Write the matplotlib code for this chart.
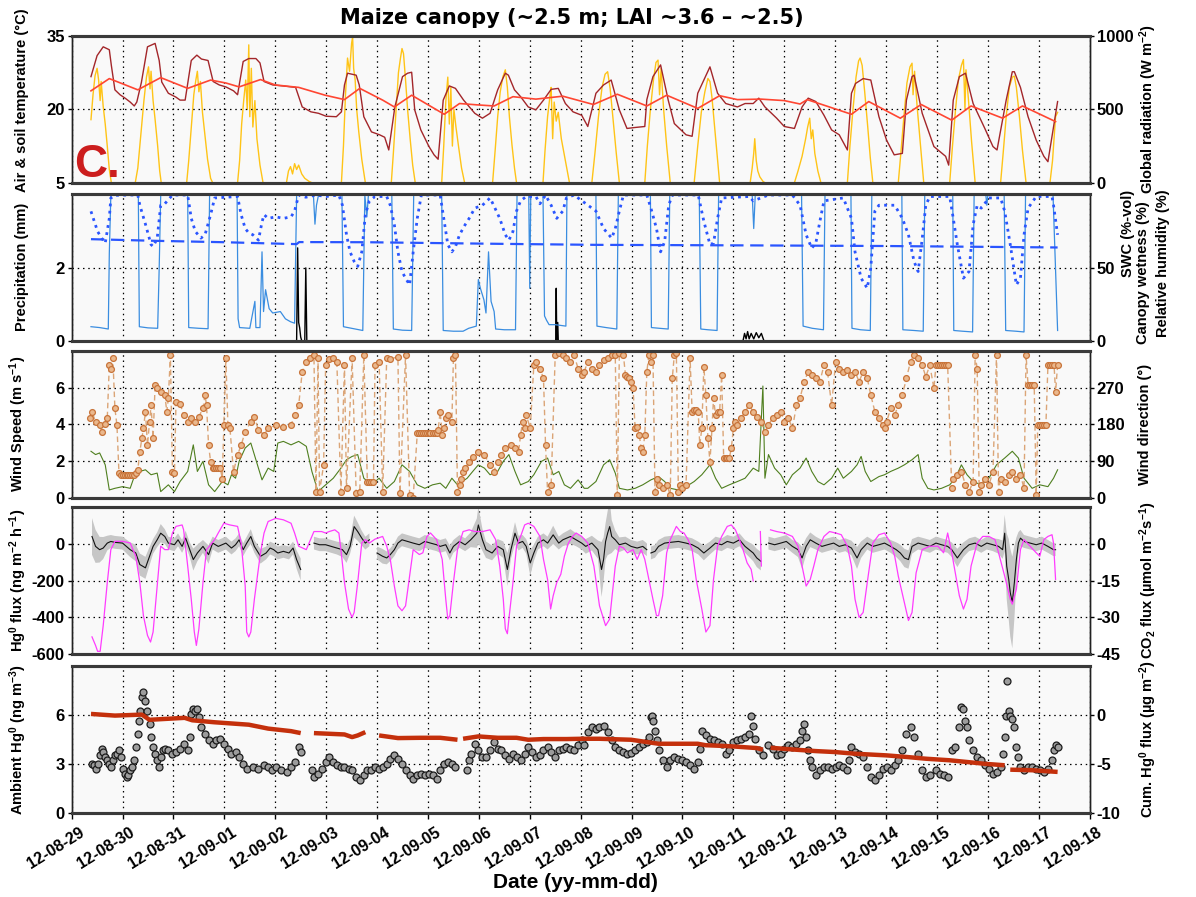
import numpy as np
import matplotlib
matplotlib.use('Agg')
import matplotlib.pyplot as plt
import matplotlib.transforms as mtransforms

plt.rcParams['font.family'] = ['Liberation Sans', 'DejaVu Sans']
plt.rcParams['font.weight'] = 'bold'
plt.rcParams['mathtext.fontset'] = 'custom'
plt.rcParams['mathtext.rm'] = 'Liberation Sans:bold'
plt.rcParams['mathtext.it'] = 'Liberation Sans:bold'
plt.rcParams['mathtext.bf'] = 'Liberation Sans:bold'
plt.rcParams['axes.unicode_minus'] = False

nan = float('nan')

# x values are days since 2012-08-29 00:00
day_labels = ['12-08-29', '12-08-30', '12-08-31', '12-09-01', '12-09-02', '12-09-03',
              '12-09-04', '12-09-05', '12-09-06', '12-09-07', '12-09-08', '12-09-09',
              '12-09-10', '12-09-11', '12-09-12', '12-09-13', '12-09-14', '12-09-15',
              '12-09-16', '12-09-17', '12-09-18']

# --- panel 1: air / soil temperature (degC), global radiation (W m-2)
air_temp = [
    (0.38, 26.7), (0.50, 31.0), (0.62, 32.8), (0.74, 32.2), (0.78, 29.0), (0.85, 24.0), (0.95, 23.0),
    (1.05, 22.3), (1.15, 21.5), (1.23, 20.7), (1.28, 21.5), (1.37, 25.5), (1.49, 32.8), (1.64, 33.5),
    (1.72, 30.0), (1.77, 25.6), (1.90, 23.3), (2.05, 22.5), (2.13, 21.9), (2.23, 21.9), (2.35, 30.0),
    (2.46, 31.1), (2.55, 30.3), (2.68, 30.0), (2.78, 25.7), (2.90, 25.0), (3.03, 24.6), (3.18, 23.8),
    (3.26, 23.0), (3.37, 29.8), (3.48, 30.4), (3.62, 30.4), (3.70, 29.5), (3.78, 25.7), (3.95, 25.0),
    (4.15, 24.8), (4.40, 24.5), (4.53, 20.5), (4.70, 19.5), (4.85, 19.2), (5.00, 18.6), (5.20, 18.5),
    (5.30, 19.5), (5.36, 25.0), (5.42, 27.4), (5.59, 27.0), (5.65, 25.0), (5.74, 18.5), (5.89, 15.4),
    (6.05, 14.8), (6.15, 14.3), (6.23, 11.7), (6.35, 20.5), (6.50, 26.7), (6.60, 27.4), (6.68, 27.6),
    (6.74, 19.9), (6.86, 15.8), (7.02, 12.4), (7.12, 10.7), (7.20, 9.8), (7.30, 21.9), (7.42, 24.8),
    (7.54, 24.3), (7.70, 21.9), (7.92, 19.2), (8.07, 18.2), (8.22, 19.2), (8.37, 24.0), (8.52, 27.4),
    (8.58, 27.0), (8.70, 24.0), (8.82, 22.6), (8.97, 20.5), (9.12, 19.9), (9.27, 21.9), (9.42, 24.1),
    (9.56, 24.3), (9.70, 21.2), (9.85, 19.5), (10.02, 18.8), (10.14, 16.5), (10.30, 23.3), (10.45, 25.0),
    (10.60, 26.0), (10.76, 19.9), (10.91, 16.1), (11.07, 16.3), (11.26, 16.5), (11.30, 22.0), (11.42, 26.7),
    (11.57, 29.1), (11.72, 21.9), (11.84, 17.1), (12.07, 14.8), (12.19, 14.5), (12.30, 23.3), (12.54, 28.7),
    (12.69, 23.3), (12.85, 21.2), (13.08, 20.5), (13.23, 21.2), (13.39, 21.2), (13.50, 22.3), (13.62, 20.5),
    (13.85, 18.2), (14.00, 16.5), (14.20, 16.1), (14.35, 20.5), (14.47, 22.3), (14.62, 21.6), (14.78, 18.8),
    (14.93, 15.8), (15.08, 14.8), (15.24, 11.7), (15.32, 23.3), (15.40, 25.3), (15.55, 26.3), (15.70, 26.0),
    (15.86, 18.5), (16.01, 13.7), (16.16, 10.7), (16.32, 11.0), (16.40, 21.9), (16.51, 26.7), (16.55, 27.0),
    (16.71, 19.2), (16.94, 12.4), (17.17, 10.4), (17.23, 8.6), (17.32, 21.9), (17.44, 26.7), (17.56, 27.4),
    (17.71, 21.2), (17.94, 16.1), (18.10, 12.4), (18.18, 11.7), (18.36, 21.9), (18.48, 27.7), (18.52, 27.7),
    (18.64, 24.5), (18.79, 18.5), (18.95, 13.7), (19.10, 10.4), (19.18, 9.3), (19.30, 17.0), (19.37, 21.6),
]
soil_temp = [
    (0.38, 23.8), (0.74, 26.3), (1.30, 24.0), (1.75, 26.5), (2.28, 24.3), (2.73, 26.0), (3.03, 25.4),
    (3.29, 24.6), (3.71, 26.1), (4.00, 25.0), (4.46, 24.5), (4.98, 22.9), (5.36, 22.0), (5.66, 24.3),
    (6.11, 21.9), (6.34, 20.5), (6.68, 22.9), (7.32, 19.0), (7.62, 21.2), (8.00, 20.9), (8.30, 20.7),
    (8.67, 22.6), (9.12, 22.1), (9.65, 22.7), (10.25, 21.0), (10.72, 23.1), (11.30, 20.7), (11.69, 22.9),
    (12.30, 20.2), (12.73, 22.8), (13.08, 22.0), (13.54, 22.1), (14.00, 21.8), (14.31, 21.1), (14.45, 22.0),
    (15.32, 19.0), (15.66, 21.6), (16.28, 18.2), (16.69, 21.0), (17.29, 17.8), (17.67, 20.7), (18.29, 18.2),
    (18.68, 20.7), (19.33, 17.5),
]
radiation = [
    (0.38, 430), (0.42, 600), (0.46, 730), (0.50, 780), (0.53, 700), (0.56, 560), (0.58, 690), (0.62, 520),
    (0.66, 400), (0.70, 250), (0.74, 90), (0.78, 0), (1.25, 0), (1.30, 100), (1.36, 330), (1.42, 560),
    (1.47, 720), (1.51, 790), (1.54, 640), (1.56, 760), (1.60, 560), (1.64, 430), (1.69, 250), (1.73, 80),
    (1.76, 0), (2.26, 0), (2.30, 150), (2.35, 380), (2.40, 600), (2.44, 700), (2.47, 760), (2.50, 620),
    (2.53, 690), (2.57, 480), (2.62, 320), (2.67, 160), (2.73, 30), (2.77, 0), (3.26, 0), (3.30, 150),
    (3.34, 400), (3.38, 560), (3.42, 700), (3.45, 500), (3.48, 940), (3.50, 450), (3.53, 780), (3.56, 380),
    (3.60, 560), (3.64, 300), (3.70, 120), (3.76, 0), (4.22, 0), (4.26, 80), (4.30, 110), (4.34, 60),
    (4.38, 130), (4.42, 90), (4.46, 120), (4.52, 60), (4.58, 30), (4.66, 10), (4.72, 0), (5.30, 0),
    (5.34, 250), (5.38, 600), (5.42, 850), (5.46, 760), (5.50, 950), (5.52, 995), (5.54, 780), (5.57, 700),
    (5.60, 500), (5.64, 350), (5.70, 160), (5.77, 0), (6.28, 0), (6.32, 200), (6.37, 480), (6.42, 750),
    (6.46, 850), (6.49, 915), (6.52, 880), (6.56, 700), (6.60, 500), (6.65, 300), (6.70, 120), (6.75, 0),
    (7.27, 0), (7.31, 250), (7.35, 550), (7.39, 720), (7.42, 400), (7.45, 650), (7.48, 250), (7.51, 500),
    (7.55, 380), (7.60, 250), (7.66, 100), (7.72, 0), (8.27, 0), (8.32, 220), (8.37, 450), (8.42, 620),
    (8.47, 720), (8.52, 770), (8.56, 650), (8.60, 450), (8.65, 260), (8.70, 100), (8.74, 0), (9.26, 0),
    (9.30, 220), (9.35, 450), (9.40, 600), (9.42, 650), (9.45, 300), (9.48, 550), (9.52, 420), (9.56, 480),
    (9.62, 300), (9.70, 150), (9.78, 0), (10.22, 0), (10.28, 200), (10.35, 450), (10.42, 650), (10.48, 740),
    (10.53, 757), (10.58, 640), (10.64, 420), (10.70, 200), (10.76, 0), (11.26, 0), (11.31, 250), (11.37, 500),
    (11.43, 700), (11.48, 820), (11.52, 836), (11.55, 600), (11.58, 780), (11.63, 500), (11.69, 250),
    (11.76, 0), (12.23, 0), (12.30, 250), (12.37, 480), (12.44, 620), (12.50, 711), (12.54, 690), (12.58, 580),
    (12.64, 350), (12.69, 150), (12.73, 0), (13.33, 0), (13.37, 100), (13.40, 200), (13.42, 300), (13.45, 150),
    (13.48, 80), (13.52, 40), (13.58, 10), (13.62, 0), (14.20, 0), (14.27, 80), (14.35, 180), (14.42, 300),
    (14.46, 380), (14.50, 440), (14.53, 300), (14.56, 360), (14.60, 200), (14.66, 80), (14.72, 0), (15.24, 0),
    (15.29, 250), (15.35, 500), (15.41, 720), (15.46, 830), (15.49, 850), (15.53, 800), (15.58, 620),
    (15.64, 380), (15.69, 170), (15.74, 0), (16.24, 0), (16.29, 200), (16.35, 450), (16.41, 680), (16.47, 790),
    (16.51, 815), (16.53, 600), (16.56, 760), (16.61, 520), (16.67, 280), (16.74, 0), (17.25, 0), (17.30, 230),
    (17.36, 480), (17.42, 700), (17.48, 800), (17.52, 840), (17.55, 500), (17.57, 770), (17.62, 560),
    (17.68, 280), (17.75, 0), (18.25, 0), (18.30, 200), (18.36, 450), (18.42, 650), (18.48, 720), (18.52, 727),
    (18.56, 650), (18.62, 450), (18.68, 220), (18.75, 0), (19.22, 0), (19.27, 150), (19.33, 450), (19.37, 480),
]

# --- panel 2: precipitation (mm), canopy wetness / RH / SWC (%)
precip = [
    (4.42, 0), (4.44, 2.55), (4.46, 0.5), (4.48, 0.35), (4.50, 0.1), (4.52, 0), (4.58, 0), (4.60, 2.0),
    (4.62, 0), (9.51, 0), (9.52, 1.44), (9.53, 0), (9.55, 0.5), (9.56, 0), (13.19, 0), (13.22, 0.2),
    (13.25, 0.05), (13.28, 0.25), (13.31, 0.05), (13.35, 0.2), (13.40, 0.05), (13.45, 0.22), (13.50, 0.08),
    (13.55, 0.2), (13.60, 0),
]
canopy_wet = [
    (0.38, 9.6), (0.55, 9.0), (0.72, 8.0), (0.74, 60), (0.77, 100), (1.31, 100), (1.33, 9.6), (1.50, 8.8),
    (1.69, 8.5), (1.72, 50), (1.75, 100), (2.28, 100), (2.30, 9.0), (2.50, 8.5), (2.68, 8.2), (2.71, 100),
    (3.25, 100), (3.27, 15), (3.30, 9.0), (3.50, 8.5), (3.60, 27), (3.62, 9.0), (3.70, 9.0), (3.74, 61),
    (3.77, 20), (3.81, 35), (3.88, 22), (3.95, 19), (4.10, 20), (4.20, 15), (4.30, 13), (4.38, 12),
    (4.42, 100), (4.75, 100), (4.78, 80), (4.81, 93), (4.85, 100), (5.31, 100), (5.34, 9.6), (5.50, 8.5),
    (5.72, 7.0), (5.76, 100), (5.80, 85), (5.83, 100), (6.29, 100), (6.32, 8.0), (6.50, 7.2), (6.68, 7.0),
    (6.72, 100), (7.27, 100), (7.30, 7.0), (7.50, 6.5), (7.69, 6.5), (7.80, 8.5), (7.95, 10), (7.99, 42),
    (8.03, 36), (8.10, 28), (8.14, 19), (8.19, 61), (8.24, 27), (8.30, 20), (8.33, 8.0), (8.50, 7.5),
    (8.72, 7.5), (8.75, 100), (8.98, 100), (9.00, 36), (9.02, 100), (9.26, 100), (9.29, 17), (9.33, 14),
    (9.38, 11), (9.50, 11), (9.71, 10), (9.73, 100), (10.30, 100), (10.32, 10), (10.50, 9), (10.71, 8),
    (10.74, 100), (11.37, 100), (11.39, 9), (11.55, 8.5), (11.72, 8), (11.75, 100), (12.33, 100), (12.36, 8),
    (12.50, 7.5), (12.68, 7), (12.71, 100), (13.37, 100), (13.40, 77), (13.43, 100), (14.34, 100),
    (14.37, 10), (14.55, 8.5), (14.77, 7.5), (14.80, 100), (15.31, 100), (15.33, 8.5), (15.50, 7.5),
    (15.69, 7), (15.72, 100), (16.31, 100), (16.33, 7.5), (16.55, 7), (16.73, 6.5), (16.76, 100),
    (17.31, 100), (17.33, 7), (17.50, 6.5), (17.70, 6), (17.73, 100), (17.96, 100), (17.98, 93),
    (18.00, 100), (18.32, 100), (18.35, 7), (18.55, 6.5), (18.71, 6), (18.74, 100), (19.28, 100), (19.37, 7),
]
rel_hum = [
    (0.38, 88.8), (0.51, 75), (0.59, 70.4), (0.66, 67), (0.74, 84), (0.77, 98), (0.85, 99.8), (1.15, 100),
    (1.30, 100), (1.34, 93), (1.45, 80), (1.56, 66), (1.60, 64.7), (1.68, 70), (1.75, 93), (1.83, 94),
    (1.98, 100), (2.28, 100), (2.35, 84), (2.43, 75), (2.54, 70.4), (2.62, 72.7), (2.73, 86.5), (2.81, 98),
    (3.26, 99), (3.33, 86.5), (3.41, 77), (3.48, 74), (3.56, 72.7), (3.67, 69), (3.74, 81.5), (3.78, 86.5),
    (3.86, 84), (4.01, 85), (4.16, 84), (4.31, 85), (4.38, 89), (4.46, 100), (4.60, 98.5), (4.80, 100),
    (5.00, 99), (5.25, 100), (5.32, 93), (5.40, 72.7), (5.47, 61), (5.55, 54.4), (5.62, 51), (5.70, 61),
    (5.77, 86.5), (5.85, 96), (5.96, 99), (6.19, 99), (6.26, 93), (6.34, 79.6), (6.41, 61), (6.49, 47.5),
    (6.56, 42.9), (6.64, 38.3), (6.71, 61), (6.79, 84), (6.87, 100), (7.24, 100), (7.32, 82), (7.39, 66),
    (7.47, 61), (7.54, 64.5), (7.62, 72.7), (7.73, 79.6), (7.81, 84), (7.92, 91), (8.07, 93), (8.22, 98),
    (8.29, 93), (8.41, 84), (8.52, 72.7), (8.59, 69), (8.67, 75), (8.74, 89), (8.82, 96), (8.93, 99),
    (9.12, 99), (9.20, 94), (9.31, 100), (9.42, 93), (9.53, 84), (9.65, 89), (9.72, 98), (9.87, 100),
    (10.30, 89), (10.45, 77), (10.61, 70.4), (10.68, 77), (10.76, 89), (10.84, 100), (11.30, 100),
    (11.38, 91), (11.49, 77), (11.57, 61), (11.65, 68), (11.73, 93), (11.80, 100), (12.31, 100), (12.42, 82),
    (12.54, 66), (12.61, 67), (12.69, 84), (12.77, 98), (13.31, 99), (13.39, 96), (13.54, 98), (13.69, 100),
    (14.16, 100), (14.31, 93), (14.43, 72.7), (14.54, 63.5), (14.62, 67), (14.70, 82), (14.78, 96),
    (15.16, 98), (15.32, 84), (15.39, 61), (15.51, 42.9), (15.63, 36), (15.70, 50), (15.78, 89), (15.86, 93),
    (16.17, 93), (16.32, 84), (16.44, 72.7), (16.55, 54.4), (16.63, 47.5), (16.71, 70), (16.78, 93),
    (16.86, 99), (17.25, 99), (17.32, 84), (17.40, 66), (17.52, 42.9), (17.63, 47.5), (17.71, 79.6),
    (17.79, 93), (17.87, 91), (18.02, 98), (18.25, 98), (18.33, 89), (18.44, 66), (18.56, 38.3), (18.64, 42.9),
    (18.71, 72.7), (18.79, 91), (18.95, 99), (19.26, 99), (19.29, 93), (19.37, 72.7),
]
swc = [
    (0.38, 69.7), (1.60, 68.6), (3.00, 67.6), (4.42, 66.3), (4.47, 67.7), (5.80, 67.6), (8.40, 66.5),
    (10.30, 65.8), (13.50, 65.4), (16.00, 65.0), (19.37, 64.0),
]

# --- panel 3: wind speed (m s-1), wind direction (deg)
wind_speed = [
    (0.38, 2.53), (0.47, 2.35), (0.55, 2.44), (0.66, 1.79), (0.74, 0.42), (0.85, 0.51), (1.00, 0.60),
    (1.15, 0.51), (1.23, 1.15), (1.34, 1.43), (1.45, 1.52), (1.56, 1.25), (1.68, 1.34), (1.75, 0.33),
    (1.90, 0.70), (2.02, 0.33), (2.13, 0.88), (2.28, 1.43), (2.39, 2.88), (2.47, 1.43), (2.58, 1.98),
    (2.69, 0.70), (2.81, 0.33), (2.96, 0.88), (3.07, 0.70), (3.14, 1.25), (3.22, 1.06), (3.29, 1.98),
    (3.41, 2.71), (3.52, 2.98), (3.63, 1.98), (3.74, 0.97), (3.86, 1.61), (3.97, 1.43), (4.05, 2.98),
    (4.16, 3.07), (4.31, 2.88), (4.46, 3.07), (4.61, 2.80), (4.72, 1.43), (4.84, 0.33), (4.99, 0.70),
    (5.14, 1.06), (5.29, 1.61), (5.40, 2.07), (5.51, 2.25), (5.62, 2.35), (5.74, 1.06), (5.89, 0.70),
    (6.04, 1.06), (6.19, 0.51), (6.34, 0.88), (6.49, 1.79), (6.64, 1.43), (6.79, 0.70), (6.94, 0.51),
    (7.09, 0.70), (7.24, 0.79), (7.35, 0.51), (7.47, 1.06), (7.58, 0.70), (7.77, 1.06), (7.88, 1.43),
    (7.99, 1.79), (8.11, 1.61), (8.22, 1.25), (8.37, 1.43), (8.48, 1.98), (8.59, 2.35), (8.71, 1.43),
    (8.82, 0.70), (8.97, 0.88), (9.08, 1.25), (9.23, 1.98), (9.35, 2.16), (9.46, 1.25), (9.57, 1.43),
    (9.68, 0.70), (9.80, 0.51), (9.95, 0.97), (10.07, 0.51), (10.14, 0.51), (10.30, 0.88), (10.45, 1.79),
    (10.57, 2.07), (10.68, 1.34), (10.76, 0.51), (10.92, 0.42), (11.07, 0.51), (11.22, 0.70), (11.38, 0.97),
    (11.53, 1.15), (11.65, 0.88), (11.76, 0.51), (11.92, 0.42), (12.07, 0.60), (12.23, 0.88), (12.38, 1.25),
    (12.54, 1.79), (12.65, 1.06), (12.77, 0.51), (12.92, 0.70), (13.08, 0.88), (13.23, 1.06), (13.39, 1.61),
    (13.50, 1.43), (13.58, 6.09), (13.62, 1.06), (13.69, 2.35), (13.81, 1.61), (13.93, 1.25), (14.04, 0.70),
    (14.16, 1.25), (14.31, 1.61), (14.43, 2.16), (14.54, 1.43), (14.66, 0.88), (14.78, 0.70), (14.93, 1.06),
    (15.05, 1.61), (15.16, 1.06), (15.32, 1.43), (15.43, 1.79), (15.51, 2.25), (15.59, 1.43), (15.70, 0.88),
    (15.86, 1.15), (15.97, 1.25), (16.09, 1.43), (16.24, 1.61), (16.36, 1.79), (16.51, 2.07), (16.63, 2.35),
    (16.71, 1.06), (16.82, 0.51), (16.94, 0.42), (17.09, 0.51), (17.25, 0.70), (17.36, 1.06), (17.48, 1.79),
    (17.59, 1.25), (17.71, 0.88), (17.87, 0.70), (18.02, 1.06), (18.17, 1.79), (18.33, 2.16), (18.48, 2.53),
    (18.60, 2.16), (18.71, 1.06), (18.87, 0.51), (19.02, 0.70), (19.18, 0.60), (19.29, 1.06), (19.37, 1.52),
]
wind_dir = [
    (0.36, 195), (0.40, 211), (0.47, 186), (0.55, 178), (0.59, 162), (0.66, 182), (0.70, 195), (0.74, 325),
    (0.77, 317), (0.81, 342), (0.85, 219), (0.89, 178), (0.93, 60), (0.96, 56), (1.00, 56), (1.04, 56),
    (1.08, 56), (1.11, 56), (1.15, 56), (1.19, 56), (1.23, 56), (1.26, 60), (1.30, 68), (1.34, 113),
    (1.38, 146), (1.41, 170), (1.45, 211), (1.49, 129), (1.53, 186), (1.56, 227), (1.60, 146), (1.64, 276),
    (1.68, 268), (1.75, 260), (1.83, 252), (1.87, 211), (1.90, 244), (1.94, 350), (1.98, 64), (2.02, 60),
    (2.05, 235), (2.13, 231), (2.20, 203), (2.28, 186), (2.35, 195), (2.43, 186), (2.50, 199), (2.58, 219),
    (2.62, 252), (2.65, 227), (2.69, 129), (2.73, 88), (2.77, 72), (2.80, 72), (2.84, 72), (2.88, 72),
    (2.92, 72), (2.96, 47), (2.99, 178), (3.03, 342), (3.07, 178), (3.11, 170), (3.18, 64), (3.26, 105),
    (3.33, 129), (3.41, 162), (3.52, 186), (3.59, 199), (3.67, 166), (3.78, 154), (3.86, 170), (4.01, 178),
    (4.16, 174), (4.31, 178), (4.38, 203), (4.46, 227), (4.53, 309), (4.61, 334), (4.68, 342), (4.76, 350),
    (4.80, 15), (4.84, 342), (4.87, 15), (4.95, 80), (4.99, 325), (5.06, 340), (5.14, 342), (5.21, 334),
    (5.29, 15), (5.36, 325), (5.40, 23), (5.51, 342), (5.59, 11), (5.66, 15), (5.74, 350), (5.81, 39),
    (5.85, 39), (5.89, 39), (5.93, 39), (5.96, 325), (6.04, 334), (6.11, 15), (6.19, 342), (6.26, 340),
    (6.41, 346), (6.45, 11), (6.56, 350), (6.64, 7), (6.71, 0), (6.79, 158), (6.83, 158), (6.87, 158),
    (6.90, 158), (6.94, 158), (6.98, 158), (7.02, 158), (7.05, 158), (7.09, 158), (7.13, 158), (7.17, 158),
    (7.20, 166), (7.24, 211), (7.28, 154), (7.32, 170), (7.35, 195), (7.39, 203), (7.47, 186), (7.50, 342),
    (7.54, 350), (7.58, 15), (7.62, 31), (7.65, 47), (7.69, 64), (7.73, 72), (7.81, 88), (7.88, 101),
    (7.99, 113), (8.11, 105), (8.22, 80), (8.29, 64), (8.37, 88), (8.44, 105), (8.52, 121), (8.63, 129),
    (8.71, 121), (8.78, 113), (8.82, 154), (8.86, 186), (8.90, 170), (8.93, 203), (9.01, 170), (9.08, 325),
    (9.12, 334), (9.20, 317), (9.27, 293), (9.31, 129), (9.35, 15), (9.42, 31), (9.50, 350), (9.57, 354),
    (9.65, 350), (9.72, 342), (9.80, 334), (9.87, 350), (9.95, 317), (10.02, 301), (10.07, 309), (10.14, 334),
    (10.22, 317), (10.30, 309), (10.37, 325), (10.45, 338), (10.53, 342), (10.61, 350), (10.68, 350),
    (10.72, 7), (10.76, 354), (10.84, 350), (10.88, 301), (10.92, 297), (10.95, 293), (10.99, 285),
    (11.03, 268), (11.07, 170), (11.11, 174), (11.15, 154), (11.19, 121), (11.22, 113), (11.26, 154),
    (11.30, 309), (11.34, 350), (11.38, 334), (11.42, 350), (11.46, 15), (11.49, 47), (11.53, 31),
    (11.61, 23), (11.69, 31), (11.76, 7), (11.80, 293), (11.84, 350), (11.88, 354), (11.92, 15), (11.96, 31),
    (12.00, 23), (12.07, 31), (12.15, 342), (12.19, 211), (12.23, 215), (12.27, 215), (12.31, 211),
    (12.34, 129), (12.38, 170), (12.42, 321), (12.46, 252), (12.50, 146), (12.54, 88), (12.58, 170),
    (12.61, 244), (12.65, 203), (12.69, 211), (12.73, 211), (12.77, 301), (12.81, 97), (12.85, 97),
    (12.88, 97), (12.92, 97), (12.96, 121), (13.00, 170), (13.04, 186), (13.08, 178), (13.15, 195),
    (13.23, 211), (13.31, 227), (13.39, 211), (13.46, 199), (13.54, 186), (13.62, 162), (13.69, 178),
    (13.77, 195), (13.85, 203), (13.93, 211), (14.00, 186), (14.08, 195), (14.16, 170), (14.24, 227),
    (14.31, 244), (14.39, 285), (14.47, 309), (14.54, 301), (14.62, 293), (14.70, 285), (14.78, 325),
    (14.85, 309), (14.93, 227), (15.01, 334), (15.08, 317), (15.16, 309), (15.24, 313), (15.32, 301),
    (15.39, 309), (15.47, 285), (15.55, 309), (15.63, 293), (15.70, 252), (15.78, 211), (15.86, 195),
    (15.93, 178), (15.97, 170), (16.01, 186), (16.09, 219), (16.17, 203), (16.24, 227), (16.32, 252),
    (16.40, 293), (16.48, 334), (16.55, 350), (16.63, 342), (16.71, 325), (16.78, 297), (16.86, 325),
    (16.94, 268), (16.98, 325), (17.02, 325), (17.05, 325), (17.09, 325), (17.13, 325), (17.17, 325),
    (17.21, 325), (17.29, 23), (17.32, 47), (17.40, 56), (17.48, 64), (17.56, 31), (17.63, 15), (17.71, 39),
    (17.75, 350), (17.79, 317), (17.83, 15), (17.87, 31), (17.94, 47), (18.02, 31), (18.10, 64), (18.17, 350),
    (18.21, 15), (18.25, 47), (18.33, 39), (18.41, 56), (18.48, 64), (18.56, 47), (18.64, 56), (18.71, 23),
    (18.75, 350), (18.79, 276), (18.83, 276), (18.87, 276), (18.91, 276), (18.95, 7), (18.98, 178),
    (19.02, 178), (19.06, 178), (19.10, 178), (19.14, 178), (19.18, 325), (19.22, 325), (19.26, 325),
    (19.30, 325), (19.33, 260), (19.37, 325),
]

# --- panel 4: Hg0 flux (ng m-2 h-1) with uncertainty half-width, CO2 flux (umol m-2 s-1)
hg_flux = [
    (0.40, 41, 100), (0.47, -13, 90), (0.55, -31, 70), (0.62, -22, 60), (0.70, 5, 40), (0.77, 14, 35),
    (0.85, 9, 35), (1.00, 5, 35), (1.15, -31, 40), (1.26, -49, 45), (1.34, -112, 60), (1.45, -130, 60),
    (1.53, -67, 50), (1.60, -13, 40), (1.68, 23, 40), (1.75, 59, 50), (1.83, 41, 40), (1.90, 5, 35),
    (2.02, -4, 35), (2.09, 23, 35), (2.17, -13, 35), (2.24, 32, 40), (2.32, -31, 40), (2.39, -85, 60),
    (2.47, -49, 45), (2.58, -13, 35), (2.69, -58, 50), (2.77, 5, 35), (2.88, -13, 35), (3.03, 5, 35),
    (3.14, -22, 35), (3.22, -4, 35), (3.29, 23, 35), (3.37, -31, 35), (3.44, 5, 35), (3.52, 41, 40),
    (3.59, -13, 35), (3.71, -67, 40), (3.82, -49, 35), (3.90, -22, 35), (3.97, -31, 35), (4.05, -49, 35),
    (4.16, -40, 35), (4.27, -49, 35), (4.35, -22, 35), (4.42, -85, 50), (4.50, -139, 60), (4.62, nan, nan),
    (4.76, 5, 35), (4.87, -4, 35), (4.99, -4, 35), (5.10, -13, 35), (5.21, -22, 35), (5.32, -31, 40),
    (5.40, -58, 45), (5.47, -13, 40), (5.55, 95, 60), (5.62, 68, 50), (5.70, 32, 40), (5.77, 5, 35),
    (5.85, 23, 35), (5.92, nan, nan), (6.00, -49, 35), (6.11, -67, 40), (6.19, -76, 35), (6.26, -58, 35),
    (6.34, -31, 35), (6.41, 5, 35), (6.49, 23, 35), (6.60, 14, 35), (6.71, 5, 35), (6.83, -4, 35),
    (6.94, 14, 35), (7.05, 5, 35), (7.17, -4, 35), (7.24, -13, 35), (7.35, -4, 35), (7.43, -49, 40),
    (7.50, -13, 35), (7.62, 14, 35), (7.73, -4, 35), (7.84, 23, 40), (7.96, 59, 80), (7.99, 104, 100),
    (8.07, 23, 60), (8.14, -31, 45), (8.26, -49, 40), (8.37, -13, 40), (8.48, -31, 45), (8.56, -139, 90),
    (8.63, -31, 50), (8.71, 59, 60), (8.78, 5, 40), (8.86, 14, 35), (8.93, -13, 40), (9.01, -103, 70),
    (9.08, -49, 45), (9.16, 5, 35), (9.27, 23, 35), (9.35, 5, 35), (9.46, 50, 50), (9.57, 5, 35),
    (9.65, 23, 35), (9.80, 41, 40), (9.91, 23, 35), (10.02, 5, 35), (10.10, -13, 40), (10.22, 5, 40),
    (10.34, -31, 50), (10.41, -139, 150), (10.45, -85, 120), (10.49, 14, 100), (10.53, 59, 120),
    (10.57, 95, 150), (10.61, 41, 90), (10.68, 23, 50), (10.76, -4, 40), (10.88, 5, 35), (10.99, -13, 35),
    (11.11, -22, 35), (11.22, -13, 35), (11.30, -31, 35), (11.34, nan, nan), (11.38, -49, 35), (11.46, -40, 35),
    (11.53, -13, 35), (11.65, 5, 35), (11.76, 9, 35), (11.92, 14, 35), (12.07, 5, 35), (12.19, -4, 35),
    (12.31, -22, 35), (12.42, -49, 40), (12.54, -22, 35), (12.65, 5, 35), (12.77, -4, 35), (12.88, 14, 35),
    (13.00, 5, 35), (13.12, 23, 35), (13.23, -13, 35), (13.31, -31, 40), (13.39, -49, 45), (13.46, -76, 50),
    (13.54, -94, 50), (13.62, nan, nan), (13.69, 5, 35), (13.81, -4, 35), (13.93, 5, 35), (14.04, 14, 35),
    (14.16, -13, 35), (14.27, -31, 40), (14.35, -76, 60), (14.43, -13, 45), (14.51, 23, 40), (14.62, 5, 35),
    (14.74, -13, 35), (14.85, -4, 35), (14.97, 5, 35), (15.08, -13, 35), (15.20, -4, 35), (15.32, -22, 40),
    (15.43, -76, 60), (15.51, -31, 45), (15.63, 5, 35), (15.74, -13, 35), (15.86, -4, 35), (15.97, 5, 35),
    (16.09, -13, 35), (16.20, -31, 40), (16.28, -49, 45), (16.36, -76, 50), (16.44, -85, 50), (16.51, -13, 40),
    (16.63, 5, 35), (16.75, -4, 35), (16.86, -13, 35), (16.98, 5, 35), (17.09, -4, 35), (17.21, -13, 35),
    (17.29, -31, 40), (17.40, -76, 50), (17.52, -31, 40), (17.63, -4, 35), (17.75, 5, 35), (17.87, -13, 35),
    (17.98, 5, 35), (18.10, -4, 35), (18.21, -13, 40), (18.29, -31, 50), (18.33, 59, 100), (18.37, -121, 180),
    (18.41, -193, 220), (18.44, -265, 240), (18.48, -319, 250), (18.52, -211, 200), (18.56, -85, 120),
    (18.60, 5, 60), (18.64, 32, 45), (18.71, 14, 35), (18.83, 5, 35), (18.95, -4, 35), (19.06, 5, 35),
    (19.18, -13, 35), (19.29, -31, 35), (19.33, -31, 35),
]
co2_flux = [
    (0.40, -38.0), (0.47, -41.5), (0.51, -43.9), (0.56, -43.9), (0.62, -33.4), (0.70, -15.8), (0.77, -2.3),
    (0.85, 1.1), (1.00, 1.1), (1.15, 0.4), (1.26, -5.0), (1.34, -15.8), (1.41, -29.3), (1.49, -37.4),
    (1.55, -40.1), (1.60, -36.0), (1.68, -17.2), (1.75, -0.9), (1.83, -2.3), (1.90, -2.3), (1.98, 4.5),
    (2.05, 7.2), (2.17, 7.8), (2.20, 5.8), (2.28, -9.0), (2.35, -22.6), (2.41, -36.0), (2.45, -41.5),
    (2.50, -34.7), (2.58, -15.8), (2.65, -2.3), (2.73, -0.3), (2.81, 1.8), (2.88, 4.5), (2.99, 8.5),
    (3.11, 7.8), (3.26, 7.2), (3.33, 0.4), (3.41, -17.2), (3.44, -36.0), (3.48, -38.0), (3.52, -36.0),
    (3.59, -22.6), (3.71, -3.6), (3.78, 4.5), (3.86, 9.2), (4.01, 10.5), (4.16, 9.9), (4.31, 8.5),
    (4.38, 4.5), (4.46, -0.9), (4.61, -2.3), (4.76, 5.1), (4.91, 5.1), (4.99, 4.5), (5.06, 5.1), (5.17, 5.8),
    (5.25, 4.5), (5.29, -2.3), (5.36, -15.8), (5.44, -26.6), (5.51, -30.0), (5.55, -28.0), (5.62, -15.8),
    (5.70, 0.4), (5.77, 1.8), (5.85, 0.4), (5.96, 2.0), (6.11, 3.1), (6.19, -0.9), (6.26, -6.3),
    (6.34, -17.2), (6.41, -25.3), (6.49, -27.3), (6.56, -25.3), (6.64, -13.1), (6.71, -2.3), (6.83, -4.3),
    (6.90, -3.6), (6.98, 3.1), (7.05, 4.5), (7.17, 1.8), (7.28, -6.3), (7.35, -22.6), (7.39, -30.7),
    (7.43, -29.3), (7.50, -15.8), (7.58, -2.3), (7.69, 5.1), (7.81, 5.8), (7.92, 5.1), (8.07, 5.1),
    (8.22, 5.8), (8.33, 1.8), (8.41, -9.0), (8.48, -22.6), (8.52, -34.7), (8.56, -36.7), (8.59, -30.7),
    (8.67, -15.8), (8.74, -0.9), (8.82, 3.1), (8.90, 7.8), (8.97, 8.5), (9.08, 7.2), (9.20, 3.1),
    (9.27, -6.3), (9.35, -14.5), (9.41, -26.6), (9.46, -21.2), (9.53, -15.8), (9.61, -12.4), (9.68, -5.0),
    (9.76, 0.4), (9.84, 3.1), (9.91, 4.5), (10.02, 3.1), (10.14, 0.4), (10.26, -9.0), (10.37, -25.3),
    (10.49, -33.4), (10.57, -30.7), (10.68, -9.0), (10.76, -0.9), (10.84, -1.6), (10.92, -3.6), (11.03, -2.3),
    (11.11, -6.3), (11.19, -2.3), (11.26, -6.3), (11.34, -14.5), (11.42, -22.6), (11.49, -29.3),
    (11.53, -29.3), (11.61, -21.2), (11.69, -3.6), (11.76, 1.8), (11.88, 7.2), (11.96, 5.1), (12.03, 4.5),
    (12.11, 1.8), (12.19, -2.3), (12.27, -14.5), (12.38, -26.6), (12.46, -36.0), (12.54, -33.4),
    (12.61, -14.5), (12.69, -0.9), (12.77, 3.1), (12.88, 7.2), (12.96, 7.8), (13.04, 5.8), (13.12, 1.8),
    (13.19, -2.3), (13.27, -7.7), (13.35, -10.4), (13.39, -15.1), (13.45, nan), (13.53, 5.1), (13.55, -9.0),
    (13.60, nan), (13.73, 5.8), (13.85, 5.1), (14.00, 4.5), (14.16, 3.1), (14.27, -0.9), (14.35, -9.0),
    (14.43, -17.2), (14.51, -14.5), (14.58, -9.0), (14.66, -2.3), (14.78, 3.1), (14.89, 5.1), (15.01, 4.5),
    (15.12, 3.8), (15.24, -0.9), (15.32, -9.0), (15.39, -22.6), (15.47, -30.0), (15.55, -28.0), (15.63, -15.8),
    (15.74, 0.4), (15.86, 3.8), (15.97, 4.5), (16.09, 0.4), (16.17, -5.0), (16.24, -13.1), (16.36, -23.9),
    (16.44, -31.3), (16.51, -28.0), (16.59, -11.8), (16.71, -2.3), (16.86, -0.9), (17.02, -0.9),
    (17.13, -3.6), (17.21, 4.5), (17.29, -3.6), (17.36, -11.8), (17.44, -21.2), (17.52, -26.6),
    (17.59, -22.6), (17.67, -9.0), (17.79, 0.4), (17.90, 3.1), (18.02, 3.1), (18.14, 1.8), (18.21, -3.6),
    (18.33, -13.1), (18.44, -22.6), (18.48, -24.6), (18.56, -18.5), (18.64, -2.3), (18.71, 1.8),
    (18.83, -0.9), (18.95, -3.6), (19.02, -5.0), (19.10, 1.8), (19.18, 3.1), (19.26, 3.8), (19.29, 0.4),
    (19.33, -14.5),
]

# --- panel 5: ambient Hg0 (ng m-3), cumulative Hg0 flux (ug m-2)
hg_ambient = [
    (0.40, 3.01), (0.44, 2.91), (0.47, 2.70), (0.51, 3.01), (0.55, 3.52), (0.59, 3.93), (0.62, 3.72),
    (0.66, 3.42), (0.70, 3.21), (0.74, 3.01), (0.77, 2.81), (0.81, 3.21), (0.85, 3.52), (0.89, 3.62),
    (0.93, 3.82), (0.96, 3.42), (1.00, 2.70), (1.04, 2.40), (1.08, 2.20), (1.11, 2.30), (1.15, 2.60),
    (1.19, 2.81), (1.23, 3.21), (1.26, 4.03), (1.30, 4.84), (1.32, 5.65), (1.34, 6.26), (1.38, 7.08),
    (1.41, 7.38), (1.45, 6.87), (1.49, 6.26), (1.53, 5.45), (1.56, 4.64), (1.60, 4.03), (1.64, 3.62),
    (1.68, 3.21), (1.71, 2.81), (1.75, 3.42), (1.79, 3.82), (1.83, 3.93), (1.90, 3.82), (1.98, 3.62),
    (2.05, 3.72), (2.13, 3.93), (2.20, 4.23), (2.28, 3.82), (2.32, 4.64), (2.35, 6.06), (2.39, 6.37),
    (2.43, 6.26), (2.47, 6.37), (2.50, 5.86), (2.54, 5.25), (2.62, 4.84), (2.69, 4.43), (2.77, 4.23),
    (2.84, 4.43), (2.92, 4.54), (2.99, 4.23), (3.07, 3.93), (3.14, 3.62), (3.22, 3.72), (3.29, 3.42),
    (3.37, 3.01), (3.44, 2.70), (3.56, 2.81), (3.67, 2.70), (3.78, 2.91), (3.86, 2.81), (3.93, 2.60),
    (4.01, 2.81), (4.12, 2.60), (4.23, 2.50), (4.31, 2.81), (4.38, 3.11), (4.46, 4.03), (4.50, 3.72),
    (4.72, 2.60), (4.76, 2.20), (4.84, 2.40), (4.91, 2.70), (4.99, 3.11), (5.06, 3.42), (5.14, 3.11),
    (5.21, 2.91), (5.29, 2.81), (5.36, 2.81), (5.44, 2.70), (5.51, 2.60), (5.59, 2.20), (5.66, 1.99),
    (5.74, 2.30), (5.81, 2.60), (5.89, 2.60), (5.96, 2.81), (6.04, 2.70), (6.11, 2.81), (6.19, 3.01),
    (6.26, 3.32), (6.34, 3.52), (6.41, 3.32), (6.49, 3.01), (6.56, 2.60), (6.64, 2.30), (6.71, 2.09),
    (6.79, 2.30), (6.87, 2.40), (6.94, 2.30), (7.02, 2.40), (7.09, 2.30), (7.17, 2.09), (7.24, 2.60),
    (7.32, 3.01), (7.39, 3.11), (7.47, 3.01), (7.54, 2.81), (7.77, 2.60), (7.81, 3.21), (7.84, 3.62),
    (7.92, 4.23), (7.99, 3.82), (8.07, 3.42), (8.14, 3.42), (8.22, 3.82), (8.29, 4.33), (8.37, 3.93),
    (8.44, 3.82), (8.52, 3.52), (8.59, 3.32), (8.67, 3.62), (8.74, 3.42), (8.82, 3.21), (8.90, 3.62),
    (8.97, 4.03), (9.05, 3.72), (9.12, 3.42), (9.20, 3.52), (9.27, 3.82), (9.35, 4.03), (9.42, 3.72),
    (9.50, 3.42), (9.57, 3.82), (9.65, 3.93), (9.72, 4.03), (9.80, 3.93), (9.87, 3.82), (9.95, 4.13),
    (10.02, 4.43), (10.07, 4.13), (10.14, 4.94), (10.22, 5.25), (10.30, 5.15), (10.37, 5.25), (10.45, 5.35),
    (10.53, 4.94), (10.61, 4.43), (10.68, 4.03), (10.76, 3.82), (10.84, 3.72), (10.92, 3.62), (10.99, 3.66),
    (11.07, 3.82), (11.15, 4.03), (11.22, 4.23), (11.30, 4.33), (11.34, 4.64), (11.38, 5.86), (11.40, 5.96),
    (11.42, 5.65), (11.46, 5.04), (11.49, 4.43), (11.53, 3.82), (11.61, 3.21), (11.69, 2.81), (11.76, 3.21),
    (11.84, 3.42), (11.92, 3.32), (12.00, 3.21), (12.07, 3.11), (12.15, 2.91), (12.23, 2.70), (12.31, 3.11),
    (12.34, 3.93), (12.38, 5.04), (12.46, 4.74), (12.54, 4.54), (12.61, 4.43), (12.69, 4.33), (12.77, 4.23),
    (12.85, 3.62), (12.92, 3.82), (13.00, 4.33), (13.08, 4.43), (13.15, 4.54), (13.23, 4.64), (13.31, 4.84),
    (13.35, 5.96), (13.39, 5.35), (13.42, 4.54), (13.50, 3.82), (13.58, 3.52), (13.69, 4.13), (13.77, 3.93),
    (13.85, 3.52), (13.93, 3.62), (14.00, 3.93), (14.08, 4.13), (14.16, 4.03), (14.24, 4.23), (14.31, 4.43),
    (14.35, 5.04), (14.39, 5.45), (14.43, 4.64), (14.47, 3.82), (14.51, 3.21), (14.54, 2.81), (14.62, 2.30),
    (14.70, 2.60), (14.78, 2.81), (14.85, 2.81), (14.93, 2.70), (15.01, 2.81), (15.08, 2.91), (15.16, 2.81),
    (15.24, 2.60), (15.28, 3.21), (15.32, 4.03), (15.39, 3.72), (15.47, 3.62), (15.55, 3.42), (15.63, 2.81),
    (15.70, 2.20), (15.78, 1.99), (15.86, 2.30), (15.93, 2.70), (16.01, 2.81), (16.09, 2.60), (16.17, 2.91),
    (16.24, 3.21), (16.32, 3.82), (16.40, 4.84), (16.48, 5.25), (16.55, 4.64), (16.63, 3.62), (16.71, 2.60),
    (16.78, 2.20), (16.86, 2.30), (16.98, 2.60), (17.05, 2.40), (17.13, 2.30), (17.21, 2.20), (17.29, 3.82),
    (17.36, 4.03), (17.44, 5.25), (17.48, 6.47), (17.52, 6.37), (17.56, 5.65), (17.59, 5.25), (17.63, 4.43),
    (17.71, 3.82), (17.79, 3.42), (17.87, 3.21), (17.94, 2.91), (18.02, 2.70), (18.10, 2.40), (18.17, 2.50),
    (18.25, 2.81), (18.29, 3.62), (18.33, 4.64), (18.35, 5.96), (18.37, 8.09), (18.41, 6.26), (18.44, 5.96),
    (18.48, 5.76), (18.52, 5.25), (18.56, 4.03), (18.60, 3.42), (18.64, 2.81), (18.71, 2.60), (18.79, 2.81),
    (18.87, 2.81), (18.95, 2.70), (19.02, 2.60), (19.10, 2.50), (19.18, 2.70), (19.26, 3.21), (19.29, 3.82),
    (19.33, 4.13), (19.37, 4.03),
]
hg_cum = [
    (0.38, 0.10), (0.85, -0.07), (1.38, 0.03), (1.53, -0.50), (2.22, -0.30), (2.37, -0.55), (2.80, -0.75),
    (3.48, -1.00), (3.86, -1.40), (4.31, -1.66), (4.50, -1.86), (4.62, nan), (4.76, -1.86), (5.36, -2.00),
    (5.51, -2.27), (5.62, -2.10), (5.77, -1.76), (5.90, nan), (6.04, -2.10), (6.41, -2.37), (6.86, -2.34),
    (7.24, -2.34), (7.58, -2.54), (7.63, nan), (7.69, -2.44), (7.99, -2.20), (8.37, -2.34), (8.74, -2.34),
    (8.97, -2.54), (9.27, -2.47), (9.72, -2.47), (10.02, -2.44), (10.37, -2.44), (10.99, -2.54),
    (11.53, -2.95), (12.30, -2.95), (12.46, -3.10), (12.92, -3.20), (13.46, -3.39), (13.58, -3.56),
    (13.65, nan), (13.73, -3.36), (14.23, -3.56), (14.62, -3.70), (15.00, -3.80), (15.39, -3.97),
    (16.01, -4.14), (16.40, -4.30), (16.78, -4.48), (17.25, -4.64), (17.56, -4.80), (17.94, -5.00),
    (18.33, -5.15), (18.39, nan), (18.44, -5.60), (18.87, -5.66), (19.37, -5.83),
]


def cols(rows):
    return [np.array(c, dtype=float) for c in zip(*rows)]


BG = '#f9f9f9'
fig = plt.figure(figsize=(11.96, 8.97), dpi=100)
left, width, height = 0.0599, 0.8512, 0.1635
bottoms = [0.7963, 0.6202, 0.4452, 0.2709, 0.0940]
axes = [fig.add_axes([left, b, width, height]) for b in bottoms]
twins = [ax.twinx() for ax in axes]

for ax, tw in zip(axes, twins):
    ax.set_xlim(0, 20)
    ax.set_xticks(range(21))
    ax.set_facecolor(BG)
    ax.set_axisbelow(True)
    ax.grid(True, color='black', linestyle=(0, (1.2, 3)), linewidth=0.9)
    for a in (ax, tw):
        for side in ('top', 'bottom'):
            a.spines[side].set_linewidth(2.2)
            a.spines[side].set_color('#3a3a3a')
        for side in ('left', 'right'):
            a.spines[side].set_linewidth(1.0)
            a.spines[side].set_color('#222222')
        a.tick_params(axis='y', labelsize=12, length=3, width=1, pad=2)
    ax.tick_params(axis='x', labelbottom=False, length=0)

# panel 1
ax, tw = axes[0], twins[0]
ax.set_zorder(tw.get_zorder() + 1)
ax.patch.set_visible(False)
tw.patch.set_visible(True)
tw.patch.set_facecolor(BG)
t, v = cols(radiation)
tw.plot(t, v, color='#ffc417', lw=1.0)
t, v = cols(air_temp)
ax.plot(t, v, color='#a3262a', lw=1.0)
t, v = cols(soil_temp)
ax.plot(t, v, color='#ff4632', lw=1.2)
ax.set_ylim(5, 35)
ax.set_yticks([5, 20, 35])
tw.set_ylim(0, 1000)
tw.set_yticks([0, 500, 1000])
ax.text(0.002, 0.04, 'C.', transform=ax.transAxes, color='#cc1e1e', fontsize=33,
        fontweight='bold', ha='left', va='baseline')

# panel 2
ax, tw = axes[1], twins[1]
t, v = cols(precip)
ax.plot(t, v, color='black', lw=1.0)
t, v = cols(canopy_wet)
tw.plot(t, v, color='#3a8de0', lw=0.9)
t, v = cols(rel_hum)
tw.plot(t, v, color='#2a55ff', lw=2.0, linestyle=(0, (1, 1.6)))
t, v = cols(swc)
tw.plot(t, v, color='#2a55ff', lw=1.6, linestyle=(0, (6, 3)))
ax.set_ylim(0, 4.03)
ax.set_yticks([0, 2])
tw.set_ylim(0, 100.7)
tw.set_yticks([0, 50])

# panel 3
ax, tw = axes[2], twins[2]
t, v = cols(wind_speed)
ax.plot(t, v, color='#4f7f1f', lw=0.8)
t, v = cols(wind_dir)
tw.plot(t, v, color='#dba577', lw=1.0, linestyle=(0, (4, 2.5)), marker='o', ms=4.2,
        mfc='#eab88d', mec='#c8743a', mew=0.9)
ax.set_ylim(0, 8)
ax.set_yticks([0, 2, 4, 6])
tw.set_ylim(0, 360)
tw.set_yticks([0, 90, 180, 270])

# panel 4
ax, tw = axes[3], twins[3]
t, f, e = cols(hg_flux)
ax.fill_between(t, f - e, f + e, color='#c6c6c6', lw=0)
ax.plot(t, f, color='#111111', lw=0.8)
t, v = cols(co2_flux)
tw.plot(t, v, color='#ff3cff', lw=0.9)
ax.set_ylim(-600, 200)
ax.set_yticks([-600, -400, -200, 0])
tw.set_ylim(-45, 15)
tw.set_yticks([-45, -30, -15, 0])

# panel 5
ax, tw = axes[4], twins[4]
t, v = cols(hg_ambient)
ax.plot(t, v, linestyle='none', marker='o', ms=5.0, mfc='#9c9c9c', mec='#1c1c1c', mew=0.9)
t, v = cols(hg_cum)
tw.plot(t, v, color='#c4300c', lw=3.2, solid_capstyle='butt')
ax.set_ylim(0, 9)
ax.set_yticks([0, 3, 6])
tw.set_ylim(-10, 5)
tw.set_yticks([-10, -5, 0])
ax.tick_params(axis='x', labelbottom=True, length=4, width=1, labelsize=11.5, pad=5)
ax.set_xticklabels(day_labels, rotation=32, ha='right', va='top', rotation_mode='anchor')
shift = mtransforms.ScaledTranslation(5 / 72, 0, fig.dpi_scale_trans)
for lab in ax.get_xticklabels():
    lab.set_transform(lab.get_transform() + shift)

# axis titles
left_labels = ['Air & soil temperature (°C)', 'Precipitation (mm)', 'Wind Speed (m s$^{-1}$)',
               'Hg$^{0}$ flux (ng m$^{-2}$ h$^{-1}$)', 'Ambient Hg$^{0}$ (ng m$^{-3}$)']
right_labels = ['Global radiation (W m$^{-2}$)', None, 'Wind direction (°)',
                'CO$_{2}$ flux (µmol m$^{-2}$s$^{-1}$)', 'Cum. Hg$^{0}$ flux (µg m$^{-2}$)']
left_y = [0.56, 0.5, 0.5, 0.5, 0.5]
for ax, tw, ll, rl, ly in zip(axes, twins, left_labels, right_labels, left_y):
    ax.set_ylabel(ll, fontsize=10.5, fontweight='bold')
    ax.yaxis.set_label_coords(-0.042, ly)
    if rl:
        tw.set_ylabel(rl, fontsize=10.5, fontweight='bold')
        tw.yaxis.set_label_coords(1.047, 0.5)

tw = twins[1]
for x, y, s in [(1.0378, 1.03, 'SWC (%-vol)'), (1.0525, 0.95, 'Canopy wetness (%)'),
                (1.0722, 1.03, 'Relative humidity (%)')]:
    tw.text(x, y, s, transform=tw.transAxes, rotation=90, ha='center', va='top',
            fontsize=10.5, fontweight='bold')

fig.text(0.478, 0.98, 'Maize canopy (~2.5 m; LAI ~3.6 – ~2.5)', ha='center', va='center',
         fontsize=15, fontweight='bold', family=['DejaVu Sans'])
fig.text(0.481, 0.0167, 'Date (yy-mm-dd)', ha='center', va='center', fontsize=15, fontweight='bold')

fig.savefig('out.png', dpi=100)
